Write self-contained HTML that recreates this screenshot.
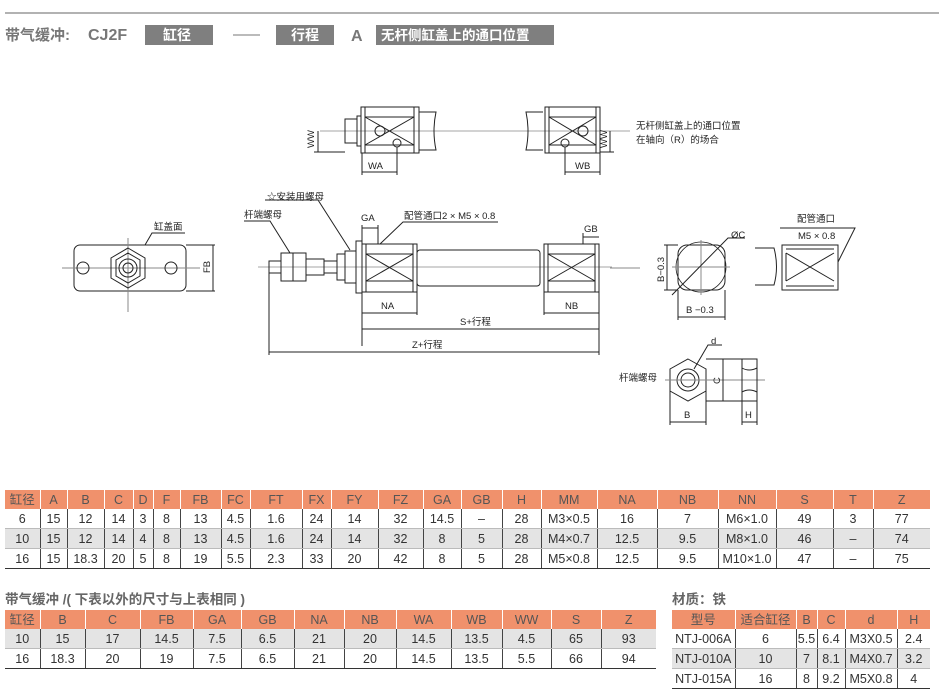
<!DOCTYPE html>
<html><head><meta charset="utf-8"><style>
body{margin:0;background:#fff;width:939px;height:692px;overflow:hidden;position:relative;font-family:"Liberation Sans","Noto Sans CJK SC",sans-serif;}
svg text{font-family:"Liberation Sans","Noto Sans CJK SC",sans-serif;}
table{position:absolute;border-collapse:collapse;table-layout:fixed;font-size:12.5px;color:#333;}
td{height:19px;padding:0;text-align:center;border-left:1px solid #444;border-bottom:1px solid #bbb;white-space:nowrap;line-height:18px;}
td:first-child{border-left:none;}
tr.h td{background:#f0916c;color:#555;border-left:1px solid #fff;border-bottom:none;}
tr.h td:first-child{border-left:none;}
tr.g td{background:#e4e4e4;}
tr:last-child td{border-bottom:1.5px solid #333;}
.tt{position:absolute;font-weight:bold;font-size:13.5px;color:#666;}
</style></head><body>
<svg width="939" height="692" viewBox="0 0 939 692" xmlns="http://www.w3.org/2000/svg" style="position:absolute;left:0;top:0">
<line x1="5" y1="13" x2="939" y2="13" stroke="#999" stroke-width="1.5"/>
<g font-weight="bold" font-size="15" fill="#777">
<text x="5" y="40">带气缓冲:</text>
<text x="88" y="40" font-size="16">CJ2F</text>
<rect x="145" y="25" width="68" height="20" fill="#7f7f7f"/><text x="163" y="40" fill="#fff" font-size="14">缸径</text>
<line x1="233" y1="35" x2="260" y2="35" stroke="#777"/>
<rect x="276" y="25" width="58" height="20" fill="#7f7f7f"/><text x="291" y="40" fill="#fff" font-size="14">行程</text>
<text x="351" y="41" font-size="16">A</text>
<rect x="376" y="25" width="178" height="20" fill="#7f7f7f"/><text x="381" y="40" fill="#fff" font-size="13.5">无杆侧缸盖上的通口位置</text>
</g>
<g stroke="#222" fill="none" stroke-width="1">
<line x1="320" y1="131" x2="630" y2="131" stroke="#888" stroke-width="0.7"/>
<rect x="345" y="119" width="12" height="24"/><rect x="357" y="116" width="4" height="30"/>
<rect x="361" y="107" width="58" height="46"/><line x1="365" y1="107" x2="365" y2="153"/><line x1="414" y1="107" x2="414" y2="153"/>
<path d="M365 117 L414 145 M365 145 L414 117 M365 117 L414 117 M365 145 L414 145"/>
<circle cx="380" cy="131" r="5"/><circle cx="397" cy="143" r="4"/>
<path d="M419 112 H436 Q432 131 436 150 H419"/>
<path d="M543 112 H526 Q530 131 526 150 H543"/>
<rect x="545" y="107" width="55" height="46"/><line x1="549" y1="107" x2="549" y2="153"/><line x1="596" y1="107" x2="596" y2="153"/>
<path d="M549 117 L596 145 M549 145 L596 117 M549 117 L596 117 M549 145 L596 145"/>
<circle cx="583" cy="131" r="5"/><circle cx="565" cy="143" r="4"/>
<line x1="318" y1="131" x2="318" y2="152"/><line x1="314" y1="152" x2="345" y2="152"/>
<line x1="362" y1="153" x2="362" y2="175"/><line x1="397" y1="147" x2="397" y2="175"/><line x1="362" y1="172" x2="397" y2="172"/>
<line x1="565" y1="147" x2="565" y2="175"/><line x1="600" y1="153" x2="600" y2="175"/><line x1="565" y1="172" x2="600" y2="172"/>
<line x1="610" y1="131" x2="610" y2="152"/><line x1="600" y1="152" x2="614" y2="152"/>
<rect x="74" y="245" width="112" height="46" rx="6"/>
<line x1="128" y1="238" x2="128" y2="312" stroke="#888"/><line x1="62" y1="268" x2="200" y2="268" stroke="#888"/>
<polygon points="128,248 145,258 145,278 128,288 111,278 111,258"/><polygon points="128,253 140,260 140,276 128,283 116,276 116,260"/>
<circle cx="128" cy="268" r="9"/><circle cx="128" cy="268" r="5"/>
<circle cx="83" cy="268" r="6"/><circle cx="171" cy="268" r="6"/>
<line x1="186" y1="245" x2="215" y2="245"/><line x1="186" y1="291" x2="215" y2="291"/><line x1="213" y1="245" x2="213" y2="291"/>
<path d="M145 245 L152 233 H185"/>
<line x1="258" y1="267" x2="612" y2="267" stroke="#888" stroke-width="0.7"/>
<rect x="269" y="261" width="12" height="12"/>
<rect x="281" y="253" width="12" height="28"/><rect x="293" y="253" width="13" height="28"/><rect x="306" y="259" width="18" height="16"/>
<rect x="324" y="261" width="13" height="12"/><rect x="337" y="254" width="8" height="26"/><rect x="345" y="251" width="11" height="32"/>
<rect x="356" y="241" width="6" height="52"/>
<rect x="362" y="244" width="55" height="48"/><line x1="366" y1="244" x2="366" y2="292"/><line x1="413" y1="244" x2="413" y2="292"/>
<path d="M366 254 L413 281 M366 281 L413 254 M366 254 H413 M366 281 H413"/>
<rect x="417" y="250" width="123" height="36" rx="3"/>
<rect x="544" y="244" width="55" height="48"/><line x1="548" y1="244" x2="548" y2="292"/><line x1="595" y1="244" x2="595" y2="292"/>
<path d="M548 254 L595 281 M548 281 L595 254 M548 254 H595 M548 281 H595"/>
<line x1="362" y1="292" x2="362" y2="346"/><line x1="417" y1="292" x2="417" y2="315"/><line x1="362" y1="313" x2="417" y2="313"/>
<line x1="544" y1="292" x2="544" y2="315"/><line x1="599" y1="244" x2="599" y2="355"/><line x1="544" y1="313" x2="599" y2="313"/>
<line x1="362" y1="329" x2="599" y2="329"/>
<line x1="269" y1="273" x2="269" y2="355"/><line x1="269" y1="352" x2="599" y2="352"/>
<line x1="362" y1="241" x2="362" y2="225"/><line x1="378" y1="244" x2="378" y2="225"/><line x1="362" y1="228" x2="378" y2="228"/>
<line x1="583" y1="244" x2="583" y2="233"/><line x1="583" y1="237" x2="599" y2="237"/>
<path d="M380 244 L403 222 H498"/>
<path d="M350 250 L318 200 H265"/><path d="M290 253 L270 221 H244"/>
<line x1="610" y1="268" x2="640" y2="268" stroke="#888"/>
<rect x="678" y="245" width="47" height="45" rx="9"/><circle cx="701" cy="267" r="25" stroke-width="0.8"/>
<line x1="701" y1="240" x2="701" y2="295" stroke="#888"/><line x1="672" y1="267" x2="730" y2="267" stroke="#888"/>
<path d="M672 295 L728 238 H745"/>
<line x1="678" y1="245" x2="664" y2="245"/><line x1="678" y1="290" x2="664" y2="290"/><line x1="667" y1="245" x2="667" y2="290"/>
<line x1="678" y1="290" x2="678" y2="320"/><line x1="725" y1="290" x2="725" y2="320"/><line x1="678" y1="317" x2="725" y2="317"/>
<path d="M755 248 H774 Q779 267 774 285 H755"/>
<rect x="782" y="245" width="56" height="45"/><line x1="786" y1="249" x2="834" y2="249"/><line x1="786" y1="286" x2="834" y2="286"/>
<path d="M786 253 L834 281 M786 281 L834 253 M786 253 V281"/>
<path d="M838 262 L855 228 H780"/>
<polygon points="688,359 706,369 706,391 688,401 670,391 670,369"/>
<circle cx="688" cy="380" r="11"/><circle cx="688" cy="380" r="7"/>
<line x1="665" y1="380" x2="765" y2="380" stroke="#888"/>
<path d="M694 369 L708 345 H722"/>
<rect x="742" y="359" width="15" height="42"/><path d="M742 368 Q749 372 757 368 M742 392 Q749 388 757 392"/>
<line x1="706" y1="359" x2="742" y2="359"/><line x1="706" y1="401" x2="742" y2="401"/><line x1="723" y1="359" x2="723" y2="401"/>
<line x1="670" y1="391" x2="670" y2="425"/><line x1="706" y1="391" x2="706" y2="425"/><line x1="670" y1="422" x2="706" y2="422"/>
<line x1="742" y1="401" x2="742" y2="425"/><line x1="757" y1="401" x2="757" y2="425"/><line x1="742" y1="422" x2="757" y2="422"/>
</g>
<g font-size="9.5" fill="#222">
<text x="368" y="169">WA</text><text x="575" y="169">WB</text>
<text x="314" y="148" transform="rotate(-90 314 148)">WW</text><text x="607" y="148" transform="rotate(-90 607 148)">WW</text>
<text x="636" y="129">无杆侧缸盖上的通口位置</text><text x="636" y="143">在轴向（R）的场合</text>
<text x="154" y="230">缸盖面</text>
<text x="210" y="273" transform="rotate(-90 210 273)">FB</text>
<text x="267" y="200">☆安装用螺母</text><text x="244" y="218">杆端螺母</text>
<text x="361" y="221">GA</text><text x="404" y="219">配管通口2 × M5 × 0.8</text>
<text x="584" y="232">GB</text>
<text x="381" y="309">NA</text><text x="565" y="309">NB</text>
<text x="460" y="325">S+行程</text><text x="412" y="348">Z+行程</text>
<text x="731" y="238">ØC</text>
<text x="664" y="282" transform="rotate(-90 664 282)">B−0.3</text>
<text x="686" y="313">B −0.3</text>
<text x="797" y="222">配管通口</text><text x="798" y="239">M5 × 0.8</text>
<text x="711" y="344">d</text><text x="619" y="381">杆端螺母</text>
<text x="720" y="384" transform="rotate(-90 720 384)">C</text>
<text x="684" y="418">B</text><text x="745" y="418">H</text>
</g>
</svg>

<table style="left:5px;top:490px;width:925px">
<colgroup><col style="width:35px"><col style="width:27px"><col style="width:37px"><col style="width:29px"><col style="width:20px"><col style="width:27px"><col style="width:41px"><col style="width:29px"><col style="width:52px"><col style="width:29px"><col style="width:47px"><col style="width:45px"><col style="width:38px"><col style="width:41px"><col style="width:39px"><col style="width:56px"><col style="width:60px"><col style="width:61px"><col style="width:58px"><col style="width:57px"><col style="width:40px"><col style="width:57px"></colgroup>
<tr class="h"><td>缸径</td><td>A</td><td>B</td><td>C</td><td>D</td><td>F</td><td>FB</td><td>FC</td><td>FT</td><td>FX</td><td>FY</td><td>FZ</td><td>GA</td><td>GB</td><td>H</td><td>MM</td><td>NA</td><td>NB</td><td>NN</td><td>S</td><td>T</td><td>Z</td></tr>
<tr><td>6</td><td>15</td><td>12</td><td>14</td><td>3</td><td>8</td><td>13</td><td>4.5</td><td>1.6</td><td>24</td><td>14</td><td>32</td><td>14.5</td><td>–</td><td>28</td><td>M3×0.5</td><td>16</td><td>7</td><td>M6×1.0</td><td>49</td><td>3</td><td>77</td></tr>
<tr class="g"><td>10</td><td>15</td><td>12</td><td>14</td><td>4</td><td>8</td><td>13</td><td>4.5</td><td>1.6</td><td>24</td><td>14</td><td>32</td><td>8</td><td>5</td><td>28</td><td>M4×0.7</td><td>12.5</td><td>9.5</td><td>M8×1.0</td><td>46</td><td>–</td><td>74</td></tr>
<tr><td>16</td><td>15</td><td>18.3</td><td>20</td><td>5</td><td>8</td><td>19</td><td>5.5</td><td>2.3</td><td>33</td><td>20</td><td>42</td><td>8</td><td>5</td><td>28</td><td>M5×0.8</td><td>12.5</td><td>9.5</td><td>M10×1.0</td><td>47</td><td>–</td><td>75</td></tr>
</table>

<div class="tt" style="left:5px;top:588px">带气缓冲 /( 下表以外的尺寸与上表相同 )</div>
<div class="tt" style="left:672px;top:588px">材质：铁</div>

<table style="left:5px;top:610px;width:651px">
<colgroup><col style="width:35px"><col style="width:45px"><col style="width:55px"><col style="width:53px"><col style="width:48px"><col style="width:53px"><col style="width:50px"><col style="width:52px"><col style="width:55px"><col style="width:51px"><col style="width:49px"><col style="width:50px"><col style="width:55px"></colgroup>
<tr class="h"><td>缸径</td><td>B</td><td>C</td><td>FB</td><td>GA</td><td>GB</td><td>NA</td><td>NB</td><td>WA</td><td>WB</td><td>WW</td><td>S</td><td>Z</td></tr>
<tr class="g"><td>10</td><td>15</td><td>17</td><td>14.5</td><td>7.5</td><td>6.5</td><td>21</td><td>20</td><td>14.5</td><td>13.5</td><td>4.5</td><td>65</td><td>93</td></tr>
<tr><td>16</td><td>18.3</td><td>20</td><td>19</td><td>7.5</td><td>6.5</td><td>21</td><td>20</td><td>14.5</td><td>13.5</td><td>5.5</td><td>66</td><td>94</td></tr>
</table>

<table style="left:672px;top:610px;width:258px">
<colgroup><col style="width:63px"><col style="width:61px"><col style="width:21px"><col style="width:28px"><col style="width:52px"><col style="width:33px"></colgroup>
<tr class="h"><td>型号</td><td>适合缸径</td><td>B</td><td>C</td><td>d</td><td>H</td></tr>
<tr><td>NTJ-006A</td><td>6</td><td>5.5</td><td>6.4</td><td>M3X0.5</td><td>2.4</td></tr>
<tr class="g"><td>NTJ-010A</td><td>10</td><td>7</td><td>8.1</td><td>M4X0.7</td><td>3.2</td></tr>
<tr><td>NTJ-015A</td><td>16</td><td>8</td><td>9.2</td><td>M5X0.8</td><td>4</td></tr>
</table>
</body></html>
